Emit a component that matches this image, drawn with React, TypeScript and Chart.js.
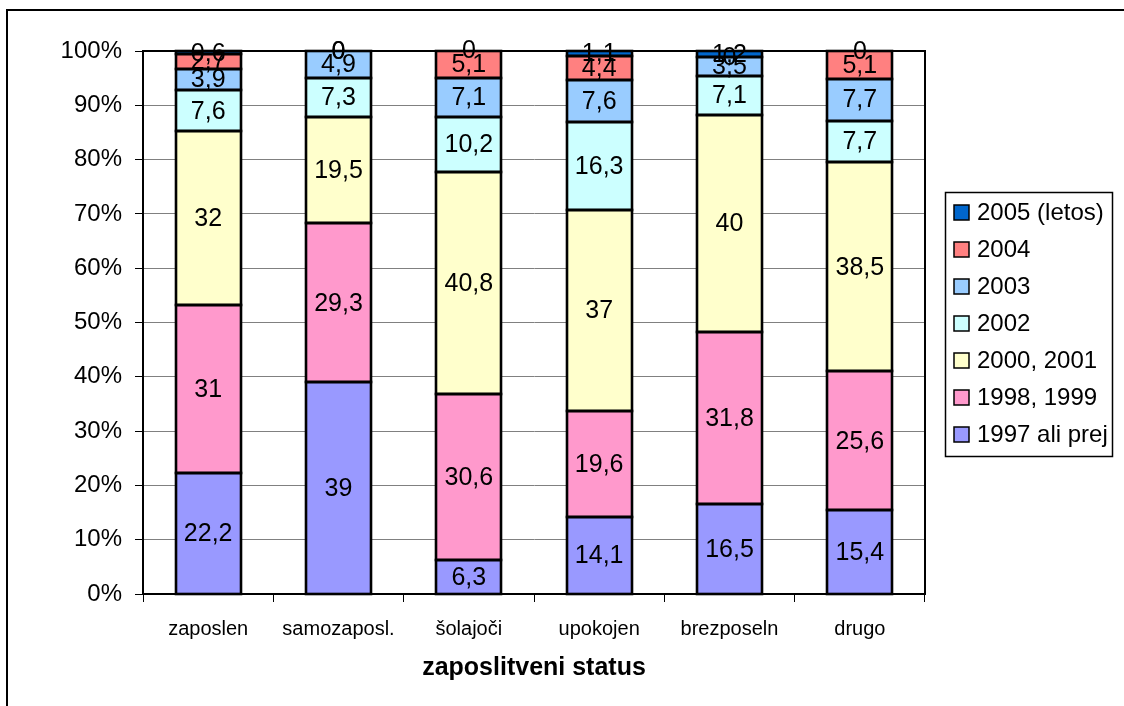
import React, { useEffect, useRef } from "react";
import { Chart, registerables } from "chart.js";

Chart.register(...registerables);

const categories = ["zaposlen", "samozaposl.", "šolajoči", "upokojen", "brezposeln", "drugo"];

const seriesNames = ["1997 ali prej", "1998, 1999", "2000, 2001", "2002", "2003", "2004", "2005 (letos)"];
const seriesColors = ["#9999FF", "#FF99CC", "#FFFFCC", "#CCFFFF", "#99CCFF", "#FF8080", "#0066CC"];

const v1997 = [22.2, 39, 6.3, 14.1, 16.5, 15.4];
const v1998 = [31, 29.3, 30.6, 19.6, 31.8, 25.6];
const v2000 = [32, 19.5, 40.8, 37, 40, 38.5];
const v2002 = [7.6, 7.3, 10.2, 16.3, 7.1, 7.7];
const v2003 = [3.9, 4.9, 7.1, 7.6, 3.5, 7.7];
const v2004 = [2.7, 0, 5.1, 4.4, 0, 5.1];
const v2005 = [0.6, 0, 0, 1.1, 1.2, 0];

const seriesValues = [v1997, v1998, v2000, v2002, v2003, v2004, v2005];

const yTicks = [0, 10, 20, 30, 40, 50, 60, 70, 80, 90, 100];

const axisTitle = "zaposlitveni status";

const FONT = "'Liberation Sans', Arial, sans-serif";

const fmt = (v: number) => String(v).replace(".", ",");

const framePlugin = {
  id: "framePlugin",
  beforeDraw(chart: any) {
    const ctx = chart.ctx;
    ctx.save();
    ctx.fillStyle = "#ffffff";
    ctx.fillRect(0, 0, chart.width, chart.height);
    ctx.strokeStyle = "#000";
    ctx.lineWidth = 2;
    ctx.beginPath();
    ctx.moveTo(7, 706);
    ctx.lineTo(7, 10);
    ctx.lineTo(1124, 10);
    ctx.stroke();
    ctx.restore();
  },
  afterDatasetsDraw(chart: any) {
    const ctx = chart.ctx;
    const a = chart.chartArea;

    // bar outlines (from the library's bar elements)
    ctx.save();
    ctx.strokeStyle = "#000";
    ctx.lineWidth = 2.6;
    chart.data.datasets.forEach((ds: any, di: number) => {
      const meta = chart.getDatasetMeta(di);
      meta.data.forEach((el: any, i: number) => {
        if (!ds.data[i]) return;
        const left = Math.round(el.x - el.width / 2);
        const right = Math.round(el.x + el.width / 2);
        const top = Math.round(Math.max(el.y, a.top));
        const bottom = Math.round(el.base);
        ctx.strokeRect(left, top, right - left, bottom - top);
      });
    });
    ctx.restore();

    ctx.save();
    ctx.strokeStyle = "#000";
    ctx.lineWidth = 2;
    ctx.beginPath();
    ctx.moveTo(a.left, a.top);
    ctx.lineTo(a.right, a.top);
    ctx.lineTo(a.right, a.bottom);
    ctx.stroke();
    ctx.restore();

    // data labels
    ctx.save();
    ctx.font = `25px ${FONT}`;
    ctx.fillStyle = "#000";
    ctx.textAlign = "center";
    ctx.textBaseline = "middle";
    chart.data.datasets.forEach((ds: any, di: number) => {
      const meta = chart.getDatasetMeta(di);
      meta.data.forEach((el: any, i: number) => {
        const v = ds.data[i];
        const x = el.x;
        const y = (el.y + el.base) / 2;
        ctx.fillText(fmt(v), x, y + 1);
      });
    });
    ctx.restore();

    // legend
    ctx.save();
    ctx.strokeStyle = "#000";
    ctx.lineWidth = 1.5;
    ctx.strokeRect(945.5, 192.5, 167, 264);
    ctx.font = `24px ${FONT}`;
    ctx.textAlign = "left";
    ctx.textBaseline = "middle";
    const n = seriesNames.length;
    for (let k = 0; k < n; k++) {
      const idx = n - 1 - k;
      const yc = 212.5 + k * 37;
      ctx.fillStyle = seriesColors[idx];
      ctx.fillRect(954, yc - 7.5, 15, 15);
      ctx.strokeStyle = "#000";
      ctx.lineWidth = 1.5;
      ctx.strokeRect(954, yc - 7.5, 15, 15);
      ctx.fillStyle = "#000";
      ctx.fillText(seriesNames[idx], 977, yc + 1);
    }
    ctx.restore();
  },
};

export default function App() {
  const ref = useRef<HTMLCanvasElement | null>(null);
  useEffect(() => {
    if (!ref.current) return;
    const chart = new Chart(ref.current, {
      type: "bar",
      data: {
        labels: categories,
        datasets: seriesNames.map((name, i) => ({
          label: name,
          data: seriesValues[i],
          backgroundColor: seriesColors[i],
          borderWidth: 0,
          inflateAmount: 0.5,
          categoryPercentage: 1,
          barPercentage: 0.5,
        })),
      },
      options: {
        animation: false,
        responsive: false,
        devicePixelRatio: 1,
        layout: { padding: { left: 0, top: 51, right: 199, bottom: 0 } },
        plugins: { legend: { display: false }, tooltip: { enabled: false } },
        scales: {
          x: {
            stacked: true,
            grid: {
              drawOnChartArea: false,
              drawTicks: true,
              tickLength: 8,
              color: "#000",
              offset: true,
            },
            border: { display: true, color: "#000", width: 2 },
            ticks: {
              color: "#000",
              font: { family: FONT, size: 20 },
              padding: 15,
              maxRotation: 0,
              autoSkip: false,
            },
            title: {
              display: true,
              text: axisTitle,
              color: "#000",
              font: { family: FONT, size: 25, weight: "bold" },
              padding: { top: 0, bottom: 23 },
            },
            afterFit: (s: any) => {
              s.height = 112;
            },
          },
          y: {
            stacked: true,
            min: 0,
            max: 100,
            afterBuildTicks: (s: any) => {
              s.ticks = yTicks.map((v) => ({ value: v }));
            },
            grid: {
              color: "#808080",
              lineWidth: 1,
              tickLength: 8,
              tickColor: "#000",
            },
            border: { display: true, color: "#000", width: 2 },
            ticks: {
              color: "#000",
              font: { family: FONT, size: 24 },
              padding: 13,
              callback: (v: any) => v + "%",
            },
            afterFit: (s: any) => {
              s.width = 143;
            },
          },
        },
      },
      plugins: [framePlugin],
    });
    return () => chart.destroy();
  }, []);
  return (
    <div style={{ position: "absolute", left: 0, top: 0, width: 1124, height: 706 }}>
      <canvas ref={ref} width={1124} height={706} style={{ width: 1124, height: 706 }} />
    </div>
  );
}
